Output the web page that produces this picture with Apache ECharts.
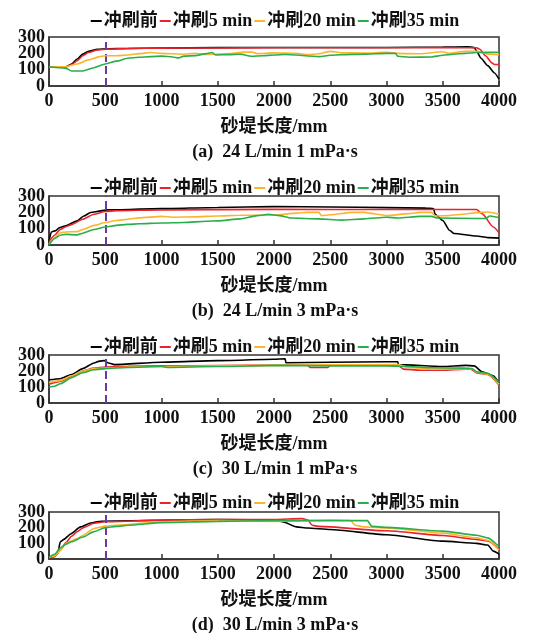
<!DOCTYPE html>
<html lang="zh">
<head>
<meta charset="UTF-8" />
<title>砂堤长度</title>
<script src="https://cdn.jsdelivr.net/npm/echarts@6/dist/echarts.min.js"></script>
<style>
  html, body { margin: 0; padding: 0; background: #fff; }
  #chart { width: 550px; height: 633px; }
</style>
</head>
<body>
<div id="chart"></div>
<script>
const seriesNames = ['冲刷前', '冲刷5 min', '冲刷20 min', '冲刷35 min'];
const captions = [
  '(a)  24 L/min 1 mPa·s',
  '(b)  24 L/min 3 mPa·s',
  '(c)  30 L/min 1 mPa·s',
  '(d)  30 L/min 3 mPa·s'
];
const xName = '砂堤长度/mm';
const markX = 500;
// y tick labels split over two stacked axes so none gets hidden as overlapping
const yLabelsA = [0, 200];
const yLabelsB = [100, 300];

// (a) 24 L/min 1 mPa·s
const a0 = [[0,118],[150,118],[200,135],[250,165],[300,195],[350,212],[430,224],[520,228],[700,230],[1000,232],[1500,235],[2000,236],[2500,236],[3000,236],[3500,238],[3720,240],[3780,236],[3800,215],[3840,170],[3900,125],[3960,80],[4000,42]];
const a1 = [[0,118],[150,118],[200,130],[250,155],[300,185],[350,205],[430,220],[520,226],[700,230],[1000,232],[1500,233],[2000,234],[2500,234],[3000,234],[3500,235],[3800,234],[3830,225],[3880,185],[3940,140],[3960,132],[4000,132]];
const a2 = [[0,118],[150,118],[250,135],[350,160],[450,180],[500,185],[600,185],[700,190],[800,198],[900,205],[1000,200],[1100,197],[1200,194],[1300,200],[1400,193],[1500,195],[1600,198],[1700,207],[1800,208],[1850,198],[2000,203],[2200,200],[2300,192],[2400,197],[2500,212],[2600,204],[2800,202],[3000,206],[3100,200],[3300,197],[3500,210],[3550,200],[3700,212],[3800,212],[3850,205],[3900,195],[4000,192]];
const a3 = [[0,118],[100,112],[150,108],[200,92],[300,92],[400,112],[500,135],[600,152],[700,170],[800,176],[900,180],[1000,183],[1100,178],[1150,172],[1200,183],[1300,186],[1400,198],[1450,205],[1480,190],[1600,192],[1700,195],[1800,182],[1900,185],[2000,190],[2100,193],[2200,190],[2300,184],[2400,180],[2500,188],[2600,192],[2800,195],[3000,200],[3080,200],[3100,182],[3200,176],[3400,178],[3500,188],[3600,194],[3700,200],[3800,205],[4000,207]];

// (b) 24 L/min 3 mPa·s
const b0 = [[0,20],[20,80],[60,88],[90,105],[150,118],[250,148],[310,178],[370,199],[460,209],[520,215],[1000,223],[1500,230],[2000,235],[2500,233],[3000,229],[3350,226],[3420,222],[3430,190],[3500,150],[3560,90],[3600,70],[3800,55],[3900,45],[4000,42]];
const b1 = [[0,20],[50,60],[100,95],[150,112],[200,125],[300,158],[400,188],[500,205],[600,210],[1000,215],[2000,218],[3000,217],[3400,217],[3800,217],[3850,192],[3950,110],[4000,75]];
const b2 = [[0,5],[50,45],[100,75],[150,80],[250,82],[300,95],[400,120],[500,138],[600,150],[700,158],[800,166],[1000,175],[1100,170],[1300,172],[1500,178],[1700,182],[2000,183],[2200,195],[2300,200],[2400,200],[2420,180],[2500,185],[2700,200],[2800,200],[2900,190],[3000,180],[3200,192],[3300,200],[3400,200],[3430,178],[3550,180],[3700,190],[3800,198],[3900,202],[4000,188]];
const b3 = [[0,0],[50,40],[100,60],[150,65],[250,62],[300,72],[400,95],[500,110],[600,120],[700,126],[800,130],[1000,135],[1200,138],[1400,145],[1500,148],[1700,160],[1850,180],[1950,188],[2050,180],[2150,165],[2400,160],[2600,152],[2800,160],[3000,170],[3100,165],[3300,175],[3400,175],[3450,165],[3800,162],[3880,162],[3920,178],[4000,168]];

// (c) 30 L/min 1 mPa·s
const c0 = [[0,145],[100,152],[200,178],[300,215],[400,250],[450,262],[490,265],[530,250],[580,240],[1000,255],[1500,265],[2000,273],[2100,277],[2105,252],[2500,255],[3000,258],[3100,258],[3105,240],[3500,228],[3700,235],[3780,232],[3850,195],[3950,170],[4000,125]];
const c1 = [[0,118],[100,135],[200,168],[300,200],[400,218],[500,225],[700,230],[1000,232],[1500,234],[2000,236],[2300,236],[2320,222],[2480,222],[2500,236],[3100,238],[3150,212],[3300,205],[3500,205],[3700,212],[3750,212],[3800,188],[3900,178],[4000,112]];
const c2 = [[0,128],[100,140],[200,170],[300,200],[400,215],[500,218],[700,225],[1000,228],[1500,232],[2000,235],[2500,238],[3100,240],[3200,222],[3400,212],[3700,215],[3760,212],[3800,192],[3900,180],[4000,118]];
const c3 = [[0,100],[50,105],[100,120],[200,158],[300,190],[400,208],[500,215],[700,222],[1000,228],[1050,222],[1500,228],[2000,235],[2500,232],[3000,232],[3200,228],[3400,220],[3700,218],[3760,215],[3800,195],[3900,185],[4000,128]];

// (d) 30 L/min 3 mPa·s
const d0 = [[0,8],[50,18],[80,40],[100,110],[133,125],[192,160],[281,205],[370,230],[459,241],[1000,247],[1500,252],[2000,247],[2080,237],[2200,205],[2300,198],[2500,188],[3000,155],[3500,114],[3800,100],[3900,89],[3950,50],[4000,32]];
const d1 = [[0,5],[50,15],[100,55],[150,105],[200,145],[250,175],[300,198],[400,228],[500,238],[1000,248],[1500,252],[2000,252],[2250,258],[2300,250],[2340,215],[2400,208],[3000,180],[3500,150],[3800,125],[3900,115],[4000,63]];
const d2 = [[0,10],[50,20],[100,55],[150,100],[250,130],[300,150],[400,195],[500,210],[700,220],[1000,238],[1500,245],[2000,240],[2500,248],[2680,246],[2720,215],[2800,205],[3000,198],[3500,165],[3800,135],[3900,120],[4000,57]];
const d3 = [[0,10],[50,30],[100,70],[150,95],[200,110],[300,140],[400,175],[500,200],[600,208],[700,215],[1000,232],[1500,240],[2000,245],[2500,245],[2830,245],[2870,208],[3000,202],[3500,178],[3800,152],[3900,135],[4000,78]];

const panels = [[a0, a1, a2, a3], [b0, b1, b2, b3], [c0, c1, c2, c3], [d0, d1, d2, d3]];
const colors = ['#000000', '#e8232a', '#fcb42d', '#2aae4a'];
const gridTops = [37, 196, 355, 512];
const gridHeights = [49, 49, 48, 47];
const legendTops = [7, 174, 333, 489];

const serif = "'Liberation Serif', 'Noto Sans CJK SC', serif";
const chart = echarts.init(document.getElementById('chart'));

function yAxisFor(p, shown, withLine) {
  return {
    gridIndex: p, type: 'value', min: 0, max: 300, interval: 100, position: 'left',
    axisLine: { show: withLine, lineStyle: { color: '#333', width: 1.5 } },
    axisTick: { show: false },
    axisLabel: {
      fontFamily: serif, fontWeight: 'bold', fontSize: 18, color: '#111', margin: 4,
      showMinLabel: true, showMaxLabel: true,
      formatter: (v) => (shown.indexOf(v) >= 0 ? String(v) : '')
    },
    splitLine: { show: false }
  };
}

const grids = [], xAxes = [], yAxes = [], legends = [], titles = [], series = [];
panels.forEach((lines, p) => {
  grids.push({
    left: 49, right: 51, top: gridTops[p], height: gridHeights[p],
    show: true, borderColor: '#333', borderWidth: 1.5, backgroundColor: 'transparent'
  });
  xAxes.push({
    gridIndex: p, type: 'value', min: 0, max: 4000, interval: 500,
    name: xName, nameLocation: 'middle', nameGap: 32,
    nameTextStyle: { fontFamily: serif, fontWeight: 'bold', fontSize: 18, color: '#111' },
    axisLine: { lineStyle: { color: '#333', width: 1.5 } },
    axisTick: { inside: true, length: 5, lineStyle: { color: '#333', width: 1.5 } },
    axisLabel: {
      fontFamily: serif, fontWeight: 'bold', fontSize: 18, color: '#111', margin: 6,
      showMinLabel: true, showMaxLabel: true,
      formatter: (v) => String(v)
    },
    splitLine: { show: false }
  });
  yAxes.push(yAxisFor(p, yLabelsA, true));
  yAxes.push(yAxisFor(p, yLabelsB, false));
  legends.push({
    top: legendTops[p], left: 'center',
    data: seriesNames.map((n) => ({ name: n + '\u200b'.repeat(p) })),
    icon: 'rect', itemWidth: 11, itemHeight: 2, itemGap: 2,
    textStyle: { fontFamily: serif, fontWeight: 'bold', fontSize: 18, color: '#111', padding: [0, 0, 0, -3] }
  });
  titles.push({
    text: captions[p], left: 'center', top: gridTops[p] + gridHeights[p] + 52,
    textStyle: { fontFamily: serif, fontWeight: 'bold', fontSize: 18, color: '#111' }
  });
  lines.forEach((data, i) => {
    const s = {
      name: seriesNames[i] + '\u200b'.repeat(p),
      type: 'line', xAxisIndex: p, yAxisIndex: p * 2,
      data: data, showSymbol: false, symbol: 'none',
      smooth: 0.2, smoothMonotone: 'x',
      lineStyle: { color: colors[i], width: 1.6 },
      itemStyle: { color: colors[i] },
      z: 3 + i
    };
    if (i === 0) {
      s.markLine = {
        silent: true, symbol: 'none', label: { show: false },
        lineStyle: { color: '#6a3aa0', type: 'dashed', width: 2 },
        data: [{ xAxis: markX }]
      };
    }
    series.push(s);
  });
});

chart.setOption({
  animation: false,
  backgroundColor: '#ffffff',
  title: titles,
  legend: legends,
  grid: grids,
  xAxis: xAxes,
  yAxis: yAxes,
  series: series
});
</script>
</body>
</html>
